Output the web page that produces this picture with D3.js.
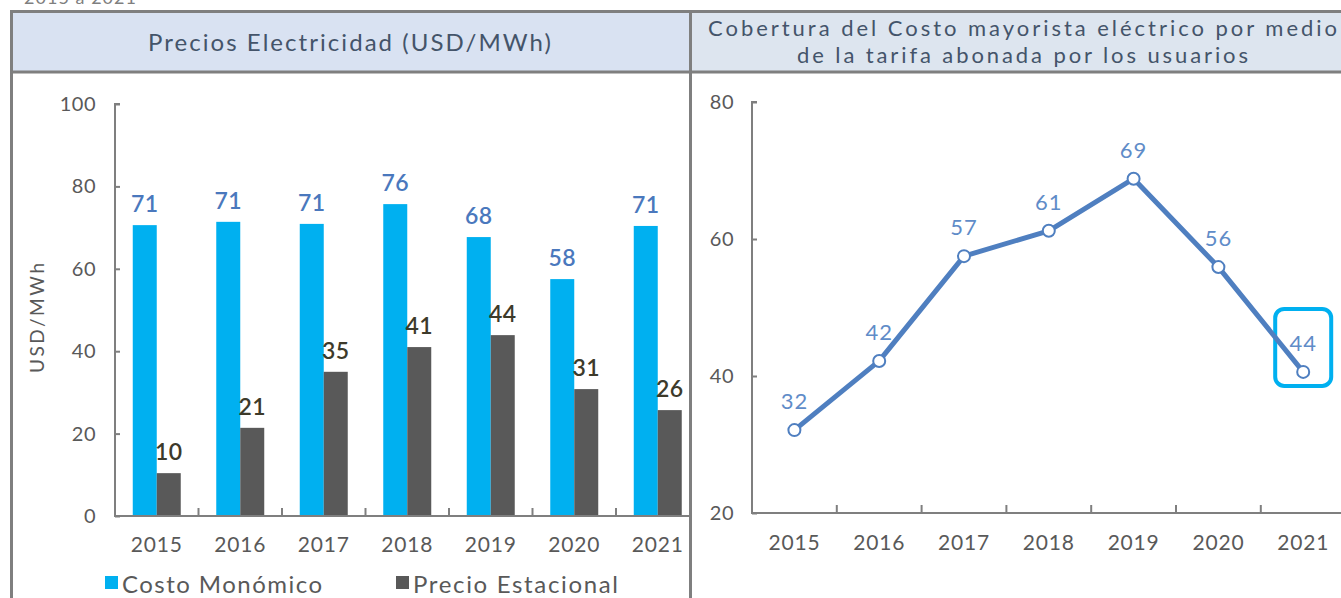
<!DOCTYPE html>
<html>
<head>
<meta charset="utf-8">
<script src="https://cdn.jsdelivr.net/npm/d3@7"></script>
<style>
  body { margin: 0; background: #fff; }
  svg { display: block; font-family: "Lato", "Noto Sans", sans-serif; }
</style>
</head>
<body>
<div id="chart"></div>
<script>
var years = ['2015', '2016', '2017', '2018', '2019', '2020', '2021']
var costoMonomico = [70.6, 71.4, 70.9, 75.7, 67.7, 57.5, 70.4]
var costoLabels = ['71', '71', '71', '76', '68', '58', '71']
var precioEstacional = [10.4, 21.4, 35, 41, 43.9, 30.8, 25.7]
var precioLabels = ['10', '21', '35', '41', '44', '31', '26']
var cobertura = [32.1, 42.2, 57.5, 61.2, 68.8, 55.9, 40.6]
var coberturaLabels = ['32', '42', '57', '61', '69', '56', '44']
var leftTicks = [0, 20, 40, 60, 80, 100]
var rightTicks = [20, 40, 60, 80]

var W = 1341, H = 598
var grey = '#7f7f7f', tickText = '#595959', headText = '#44546a'

var svg = d3.select('#chart').append('svg')
  .attr('width', W).attr('height', H)

// top caption (cut off by the page edge, as in the source)
svg.append('text').attr('x', 24).attr('y', 4)
  .attr('font-size', 18).attr('fill', '#7f7f7f')
  .attr('textLength', 112).attr('lengthAdjust', 'spacing').text('2015 a 2021')

// header bands
svg.append('rect').attr('x', 12).attr('y', 12).attr('width', 678).attr('height', 60).attr('fill', '#d9e2f2')
svg.append('rect').attr('x', 691).attr('y', 12).attr('width', 660).attr('height', 60).attr('fill', '#dde5ef')

svg.append('text').attr('x', 349.5).attr('y', 51).attr('text-anchor', 'middle')
  .attr('font-size', 24).attr('fill', headText)
  .attr('textLength', 403).attr('lengthAdjust', 'spacing')
  .text('Precios Electricidad (USD/MWh)')
svg.append('text').attr('x', 1022.5).attr('y', 36).attr('text-anchor', 'middle')
  .attr('font-size', 22).attr('fill', headText)
  .attr('textLength', 629).attr('lengthAdjust', 'spacing')
  .text('Cobertura del Costo mayorista eléctrico por medio')
svg.append('text').attr('x', 1022.5).attr('y', 63).attr('text-anchor', 'middle')
  .attr('font-size', 22).attr('fill', headText)
  .attr('textLength', 451).attr('lengthAdjust', 'spacing')
  .text('de la tarifa abonada por los usuarios')

// ---------- left chart: grouped bars ----------
var clip = svg.append('clipPath').attr('id', 'leftclip')
clip.append('rect').attr('x', 12).attr('y', 73).attr('width', 678).attr('height', 530)
var gL = svg.append('g').attr('clip-path', 'url(#leftclip)')

var x0 = d3.scaleBand().domain(years).range([115, 115 + 7 * 83.5])
var x1 = d3.scaleBand().domain(['costo', 'precio']).range([0, x0.bandwidth()]).paddingOuter(0.74)
var yL = d3.scaleLinear().domain([0, 100]).range([516, 104])

var barData = years.map(function(y, i) {
  return [
    {year: y, key: 'costo', v: costoMonomico[i], label: costoLabels[i]},
    {year: y, key: 'precio', v: precioEstacional[i], label: precioLabels[i]}
  ]
})
var colors = {costo: '#00b0f0', precio: '#595959'}
var labelColors = {costo: '#4a78bd', precio: '#3d3a2a'}

var groups = gL.selectAll('.grp').data(barData).enter().append('g')
  .attr('transform', function(d) { return 'translate(' + x0(d[0].year) + ',0)' })
groups.selectAll('rect').data(function(d) { return d }).enter().append('rect')
  .attr('x', function(d) { return x1(d.key) })
  .attr('width', x1.bandwidth())
  .attr('y', function(d) { return yL(d.v) })
  .attr('height', function(d) { return yL(0) - yL(d.v) })
  .attr('fill', function(d) { return colors[d.key] })
groups.selectAll('.lbl').data(function(d) { return d }).enter().append('text')
  .attr('x', function(d) { return x1(d.key) + x1.bandwidth() / 2 })
  .attr('y', function(d) { return yL(d.v) - 13 })
  .attr('text-anchor', 'middle')
  .attr('font-size', 23)
  .attr('font-weight', 600)
  .attr('letter-spacing', 0.5)
  .attr('fill', function(d) { return labelColors[d.key] })
  .text(function(d) { return d.label })

// y axis left
var yAxisL = gL.append('g').attr('transform', 'translate(115,0)')
  .call(d3.axisRight(yL).tickValues(leftTicks).tickSize(5).tickFormat(''))
yAxisL.selectAll('path, line').attr('stroke', grey).attr('stroke-width', 2)
yAxisL.select('.domain').attr('d', 'M5,104H0V516')
svg.selectAll('.ylabL').data(leftTicks).enter().append('text')
  .attr('x', 96).attr('y', function(d) { return yL(d) + 7 })
  .attr('text-anchor', 'end').attr('font-size', 20).attr('fill', tickText)
  .attr('letter-spacing', 0.5)
  .text(function(d) { return d })

// x axis left
gL.append('line').attr('x1', 114).attr('x2', 700).attr('y1', 516).attr('y2', 516)
  .attr('stroke', grey).attr('stroke-width', 2)
gL.selectAll('.xtL').data(years.slice(1)).enter().append('line')
  .attr('x1', function(d) { return x0(d) }).attr('x2', function(d) { return x0(d) })
  .attr('y1', 516).attr('y2', 508).attr('stroke', grey).attr('stroke-width', 2)
gL.selectAll('.xlabL').data(years).enter().append('text')
  .attr('x', function(d) { return x0(d) + x0.bandwidth() / 2 })
  .attr('y', 552).attr('text-anchor', 'middle').attr('font-size', 21).attr('fill', tickText)
  .attr('letter-spacing', 0.8)
  .text(function(d) { return d })

svg.append('text').attr('transform', 'translate(44,318) rotate(-90)')
  .attr('text-anchor', 'middle').attr('font-size', 19).attr('fill', tickText)
  .attr('textLength', 110).attr('lengthAdjust', 'spacing').text('USD/MWh')

// legend
var legend = [
  {name: 'Costo Monómico', key: 'costo', x: 105, len: 200},
  {name: 'Precio Estacional', key: 'precio', x: 396, len: 205}
]
var lg = svg.selectAll('.leg').data(legend).enter().append('g')
  .attr('transform', function(d) { return 'translate(' + d.x + ',0)' })
lg.append('rect').attr('x', 0).attr('y', 576).attr('width', 13).attr('height', 13)
  .attr('fill', function(d) { return colors[d.key] })
lg.append('text').attr('x', 17).attr('y', 593).attr('font-size', 24).attr('fill', tickText)
  .attr('textLength', function(d) { return d.len }).attr('lengthAdjust', 'spacing')
  .text(function(d) { return d.name })

// ---------- right chart: line ----------
var xR = d3.scaleBand().domain(years).range([752, 752 + 7 * 84.8])
var yR = d3.scaleLinear().domain([20, 80]).range([513, 102])

var yAxisR = svg.append('g').attr('transform', 'translate(752,0)')
  .call(d3.axisRight(yR).tickValues(rightTicks).tickSize(5).tickFormat(''))
yAxisR.selectAll('path, line').attr('stroke', grey).attr('stroke-width', 2)
yAxisR.select('.domain').attr('d', 'M5,102H0V513')
svg.selectAll('.ylabR').data(rightTicks).enter().append('text')
  .attr('x', 734).attr('y', function(d) { return yR(d) + 7 })
  .attr('text-anchor', 'end').attr('font-size', 20).attr('fill', tickText)
  .attr('letter-spacing', 0.5)
  .text(function(d) { return d })

svg.append('line').attr('x1', 751).attr('x2', 1341).attr('y1', 513).attr('y2', 513)
  .attr('stroke', grey).attr('stroke-width', 2)
svg.selectAll('.xtR').data(years.slice(1)).enter().append('line')
  .attr('x1', function(d) { return xR(d) }).attr('x2', function(d) { return xR(d) })
  .attr('y1', 513).attr('y2', 505).attr('stroke', grey).attr('stroke-width', 2)
svg.selectAll('.xlabR').data(years).enter().append('text')
  .attr('x', function(d) { return xR(d) + xR.bandwidth() / 2 })
  .attr('y', 550).attr('text-anchor', 'middle').attr('font-size', 21).attr('fill', tickText)
  .attr('letter-spacing', 0.8)
  .text(function(d) { return d })

var pts = years.map(function(y, i) {
  return {x: xR(y) + xR.bandwidth() / 2, y: yR(cobertura[i]), label: coberturaLabels[i]}
})

// highlight box around last point
var last = pts[pts.length - 1]
svg.append('rect').attr('x', last.x - 28).attr('y', last.y - 63)
  .attr('width', 56).attr('height', 77).attr('rx', 9)
  .attr('fill', 'none').attr('stroke', '#00b0f0').attr('stroke-width', 4)

svg.append('path').datum(pts)
  .attr('d', d3.line().x(function(d) { return d.x }).y(function(d) { return d.y }))
  .attr('fill', 'none').attr('stroke', '#4f7fc0').attr('stroke-width', 5)
  .attr('stroke-linejoin', 'round')
svg.selectAll('.pt').data(pts).enter().append('circle')
  .attr('cx', function(d) { return d.x }).attr('cy', function(d) { return d.y })
  .attr('r', 6).attr('fill', '#fff').attr('stroke', '#4f7fc0').attr('stroke-width', 2)
svg.selectAll('.ptl').data(pts).enter().append('text')
  .attr('x', function(d) { return d.x }).attr('y', function(d) { return d.y - 21 })
  .attr('text-anchor', 'middle').attr('font-size', 22).attr('fill', '#5f8cc8')
  .attr('letter-spacing', 1)
  .text(function(d) { return d.label })

// ---------- panel frames ----------
var frame = svg.append('g').attr('stroke', grey).attr('stroke-width', 3).attr('fill', 'none')
frame.append('path').attr('d', 'M11.5,' + H + 'V11.5H1345')
frame.append('line').attr('x1', 690.5).attr('x2', 690.5).attr('y1', 10).attr('y2', H)
frame.append('line').attr('x1', 10).attr('x2', 1345).attr('y1', 72).attr('y2', 72)
</script>
</body>
</html>
